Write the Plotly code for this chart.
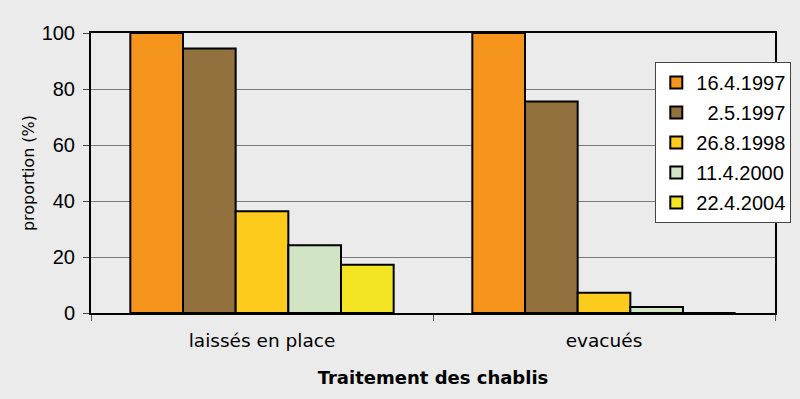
import plotly.graph_objects as go

categories = ["laissés en place", "evacués"]
series_names = ["16.4.1997", "  2.5.1997", "26.8.1998", "11.4.2000", "22.4.2004"]
series_values = [
    [100, 100],
    [94.5, 75.5],
    [36.3, 7.2],
    [24.2, 2.1],
    [17.2, 0],
]
colors = ["#f5951d", "#93713f", "#fdcb1c", "#d1e5c5", "#f3e524"]
y_ticks = [0, 20, 40, 60, 80, 100]

fig = go.Figure()
for i, (name, vals, c) in enumerate(zip(series_names, series_values, colors)):
    fig.add_trace(go.Bar(
        x=categories, y=vals, name=name, legendgroup=f"g{i}",
        marker=dict(color=c, line=dict(color="#000000", width=2)),
    ))

fig.update_layout(
    width=800, height=399,
    margin=dict(l=91, r=25, t=33, b=86, autoexpand=False),
    paper_bgcolor="#ebebeb", plot_bgcolor="#ebebeb",
    barmode="group", bargap=0.23, bargroupgap=0,
    font=dict(family="Liberation Sans", color="#000000"),
    showlegend=True,
    legend=dict(
        x=0.825, y=0.896, xanchor="left", yanchor="top",
        bgcolor="#ffffff", bordercolor="#444444", borderwidth=1,
        font=dict(size=20, family="Liberation Sans"),
        tracegroupgap=1, itemsizing="constant",
    ),
)
fig.update_xaxes(
    type="category", tickson="boundaries", ticks="outside", ticklen=6,
    tickcolor="#555555", ticklabelstandoff=10,
    showline=True, linecolor="#000000", linewidth=2, mirror=True,
    tickfont=dict(family="DejaVu Sans", size=18.5),
    title=dict(text="<b>Traitement des chablis</b>",
               font=dict(family="DejaVu Sans", size=18),
               standoff=21),
)
fig.update_yaxes(
    range=[0, 100], tickvals=y_ticks, ticks="outside", ticklen=6,
    tickcolor="#444444", ticklabelstandoff=4,
    showgrid=True, gridcolor="#7a7a7a", gridwidth=1,
    showline=True, linecolor="#000000", linewidth=2, mirror=True,
    zeroline=False,
    tickfont=dict(size=20, family="Liberation Sans"),
    title=dict(text="proportion (%)", font=dict(size=16, family="DejaVu Sans"), standoff=3),
)

fig.write_html("out.html")
